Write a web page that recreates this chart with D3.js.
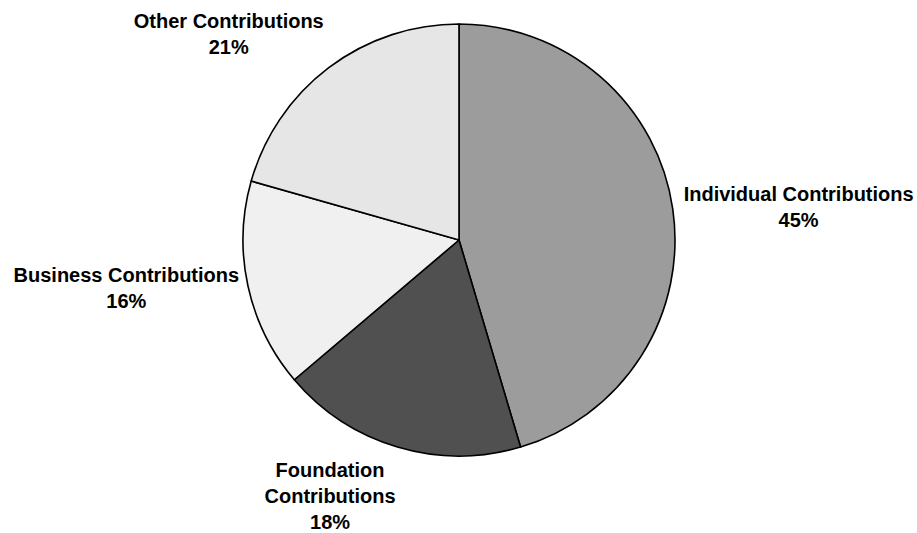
<!DOCTYPE html>
<html>
<head>
<meta charset="utf-8">
<script src="https://cdn.jsdelivr.net/npm/d3@7"></script>
<style>
  html, body { margin: 0; padding: 0; background: #ffffff; }
  svg { display: block; }
  text { font-family: "Liberation Sans", Arial, sans-serif; font-weight: bold; font-size: 20px; fill: #000; }
</style>
</head>
<body>
<svg id="chart" width="917" height="533"></svg>
<script>
// Funding sources, clockwise from 12 o'clock
const categories = ["Individual Contributions", "Foundation Contributions", "Business Contributions", "Other Contributions"];
const labelLines = [["Individual Contributions"], ["Foundation", "Contributions"], ["Business Contributions"], ["Other Contributions"]];
const shares = [45.4, 18.4, 15.6, 20.6];
const fills = ["#9c9c9c", "#505050", "#f0f0f0", "#e6e6e6"];

const width = 917, height = 533;
const cx = 459, cy = 240, radius = 216;
const lineHeight = 26, ascent = 20;

const svg = d3.select("#chart");
const g = svg.append("g").attr("transform", `translate(${cx},${cy})`);

const data = categories.map((c, i) => ({ name: c, lines: labelLines[i], value: shares[i], fill: fills[i] }));

const pie = d3.pie().value(d => d.value).sort(null);
const arcs = pie(data);
const arc = d3.arc().innerRadius(0).outerRadius(radius);

g.selectAll("path.slice")
  .data(arcs)
  .enter().append("path")
  .attr("class", "slice")
  .attr("d", arc)
  .attr("fill", d => d.data.fill)
  .attr("stroke", "#000")
  .attr("stroke-width", 1.6)
  .attr("stroke-linejoin", "round");

// Labels sit just outside the rim, aligned away from the pie
const labelRadius = radius + 10;
const pct = d3.format(".0f");

arcs.forEach(a => {
  const mid = (a.startAngle + a.endAngle) / 2;
  const px = labelRadius * Math.sin(mid);
  const py = -labelRadius * Math.cos(mid);
  const lines = a.data.lines.concat([pct(a.data.value) + "%"]);
  const n = lines.length;

  const right = Math.sin(mid) >= 0;
  const c = Math.cos(mid);
  let b0;
  if (c > 0.5) b0 = py + ascent - n * lineHeight;          // above the rim point
  else if (c < -0.5) b0 = py + ascent;                     // below the rim point
  else b0 = py + ascent - n * lineHeight / 2;              // centred on it

  const t = g.append("text").attr("text-anchor", "middle");
  // measure widest line to centre multi-line blocks
  const tmp = g.append("text").style("visibility", "hidden");
  let maxW = 0;
  lines.forEach(l => { tmp.text(l); maxW = Math.max(maxW, tmp.node().getComputedTextLength()); });
  tmp.remove();
  const blockCx = right ? px + 1 + maxW / 2 : px + 1 - maxW / 2;

  lines.forEach((l, i) => {
    t.append("tspan").attr("x", blockCx).attr("y", b0 + i * lineHeight).text(l);
  });
});
</script>
</body>
</html>
